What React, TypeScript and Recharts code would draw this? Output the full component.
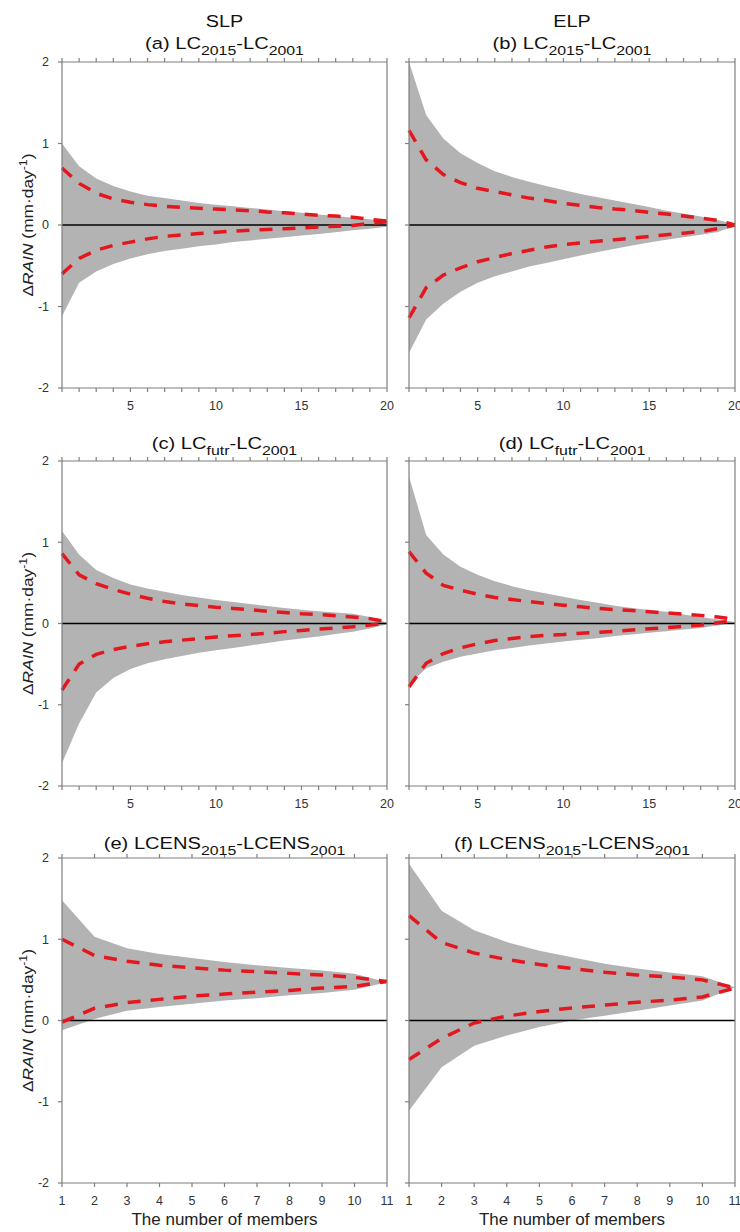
import React from 'react';
import { ComposedChart, Area, Line, XAxis, YAxis, ReferenceLine } from 'recharts';

const members20 = [1, 2, 3, 4, 5, 6, 7, 8, 9, 10, 11, 12, 13, 14, 15, 16, 17, 18, 19, 20];
const members11 = [1, 2, 3, 4, 5, 6, 7, 8, 9, 10, 11];
const yTicks = [-2, -1, 0, 1, 2];

// (a) SLP, LC2015-LC2001
const aSpreadHi = [1.0, 0.72, 0.57, 0.48, 0.41, 0.36, 0.33, 0.3, 0.27, 0.25, 0.23, 0.21, 0.19, 0.17, 0.15, 0.13, 0.11, 0.09, 0.07, 0.04];
const aSpreadLo = [-1.12, -0.71, -0.57, -0.48, -0.41, -0.36, -0.32, -0.29, -0.26, -0.24, -0.21, -0.19, -0.17, -0.15, -0.13, -0.11, -0.09, -0.065, -0.045, -0.02];
const aMeanHi = [0.7, 0.51, 0.39, 0.32, 0.28, 0.25, 0.23, 0.215, 0.205, 0.195, 0.185, 0.175, 0.16, 0.15, 0.135, 0.12, 0.11, 0.095, 0.07, 0.05];
const aMeanLo = [-0.6, -0.41, -0.31, -0.25, -0.21, -0.17, -0.14, -0.12, -0.105, -0.09, -0.075, -0.065, -0.055, -0.045, -0.035, -0.025, -0.015, -0.005, 0.02, 0.04];

// (b) ELP, LC2015-LC2001
const bSpreadHi = [2.0, 1.35, 1.06, 0.88, 0.76, 0.66, 0.59, 0.53, 0.48, 0.43, 0.38, 0.34, 0.3, 0.26, 0.22, 0.175, 0.14, 0.105, 0.06, 0.01];
const bSpreadLo = [-1.57, -1.16, -0.965, -0.82, -0.71, -0.63, -0.57, -0.51, -0.465, -0.42, -0.375, -0.33, -0.29, -0.25, -0.215, -0.18, -0.15, -0.12, -0.085, -0.01];
const bMeanHi = [1.16, 0.8, 0.62, 0.52, 0.45, 0.41, 0.37, 0.33, 0.3, 0.265, 0.24, 0.215, 0.195, 0.18, 0.155, 0.135, 0.11, 0.085, 0.055, 0.0];
const bMeanLo = [-1.14, -0.77, -0.615, -0.525, -0.45, -0.4, -0.35, -0.31, -0.27, -0.24, -0.22, -0.2, -0.18, -0.16, -0.14, -0.12, -0.1, -0.08, -0.045, 0.0];

// (c) SLP, LCfutr-LC2001
const cSpreadHi = [1.14, 0.85, 0.66, 0.56, 0.48, 0.43, 0.39, 0.35, 0.32, 0.29, 0.265, 0.24, 0.215, 0.19, 0.17, 0.15, 0.135, 0.12, 0.08, 0.01];
const cSpreadLo = [-1.72, -1.23, -0.85, -0.67, -0.56, -0.49, -0.44, -0.4, -0.36, -0.33, -0.3, -0.27, -0.24, -0.21, -0.185, -0.16, -0.13, -0.1, -0.06, -0.01];
const cMeanHi = [0.86, 0.6, 0.49, 0.42, 0.36, 0.31, 0.27, 0.24, 0.22, 0.2, 0.185, 0.17, 0.15, 0.135, 0.12, 0.11, 0.095, 0.08, 0.06, 0.02];
const cMeanLo = [-0.82, -0.5, -0.38, -0.32, -0.28, -0.25, -0.225, -0.205, -0.185, -0.165, -0.15, -0.135, -0.12, -0.1, -0.085, -0.07, -0.055, -0.04, -0.02, 0.01];

// (d) ELP, LCfutr-LC2001
const dSpreadHi = [1.81, 1.09, 0.85, 0.7, 0.6, 0.52, 0.46, 0.41, 0.37, 0.33, 0.29, 0.255, 0.22, 0.19, 0.165, 0.145, 0.11, 0.08, 0.05, 0.02];
const dSpreadLo = [-0.75, -0.55, -0.47, -0.41, -0.37, -0.33, -0.3, -0.27, -0.245, -0.22, -0.2, -0.18, -0.155, -0.135, -0.115, -0.095, -0.075, -0.055, -0.02, 0.01];
const dMeanHi = [0.885, 0.62, 0.47, 0.41, 0.36, 0.32, 0.295, 0.27, 0.245, 0.225, 0.205, 0.185, 0.17, 0.16, 0.145, 0.13, 0.115, 0.1, 0.08, 0.05];
const dMeanLo = [-0.78, -0.49, -0.37, -0.3, -0.25, -0.21, -0.185, -0.16, -0.145, -0.135, -0.12, -0.11, -0.095, -0.08, -0.065, -0.05, -0.035, -0.02, 0.01, 0.04];

// (e) SLP, LCENS2015-LCENS2001
const eSpreadHi = [1.48, 1.03, 0.89, 0.82, 0.77, 0.72, 0.68, 0.645, 0.615, 0.575, 0.47];
const eSpreadLo = [-0.12, 0.02, 0.12, 0.165, 0.205, 0.245, 0.275, 0.31, 0.34, 0.38, 0.47];
const eMeanHi = [1.0, 0.8, 0.73, 0.68, 0.65, 0.62, 0.6, 0.58, 0.56, 0.53, 0.48];
const eMeanLo = [-0.02, 0.15, 0.22, 0.26, 0.3, 0.325, 0.35, 0.37, 0.4, 0.42, 0.48];

// (f) ELP, LCENS2015-LCENS2001
const fSpreadHi = [1.93, 1.35, 1.11, 0.965, 0.86, 0.78, 0.7, 0.64, 0.59, 0.545, 0.41];
const fSpreadLo = [-1.11, -0.575, -0.31, -0.185, -0.08, 0.0, 0.06, 0.12, 0.185, 0.245, 0.41];
const fMeanHi = [1.29, 0.96, 0.83, 0.75, 0.69, 0.64, 0.595, 0.56, 0.535, 0.5, 0.4];
const fMeanLo = [-0.48, -0.22, -0.03, 0.055, 0.11, 0.155, 0.19, 0.225, 0.25, 0.29, 0.4];

const FONT = "'Liberation Sans', Arial, Helvetica, sans-serif";
const AXIS = '#7f7f7f';
const GRAY = '#b3b3b3';
const RED = '#e4171e';
const YW = 50;
const RW = 10;
const TH = 10;
const BH = 30;

interface PanelProps {
  left: number;
  top: number;
  width: number;
  height: number;
  xs: number[];
  spreadHi: number[];
  spreadLo: number[];
  meanHi: number[];
  meanLo: number[];
  labelStep: number;
  showY: boolean;
}

function Panel({ left, top, width, height, xs, spreadHi, spreadLo, meanHi, meanLo, labelStep, showY }: PanelProps) {
  const data = xs.map((x, i) => ({
    x,
    band: [spreadLo[i], spreadHi[i]],
    hi: meanHi[i],
    lo: meanLo[i],
  }));
  const xMax = xs[xs.length - 1];
  const tick = { fill: '#333', fontSize: 12.5, fontFamily: FONT };
  const line = { stroke: AXIS, strokeWidth: 1.2 };

  return (
    <div style={{ position: 'absolute', left: left - YW, top: top - TH }}>
      <ComposedChart
        width={width + YW + RW}
        height={height + TH + BH}
        data={data}
        margin={{ top: 0, right: 0, bottom: 0, left: 0 }}
      >
        <XAxis
          dataKey="x"
          type="number"
          domain={[1, xMax]}
          ticks={xs}
          interval={0}
          height={BH}
          axisLine={line}
          tickLine={line}
          tickSize={4}
          tickMargin={9}
          tick={tick}
          tickFormatter={(v: number) => (v % labelStep === 0 ? String(v) : '')}
        />
        <XAxis
          xAxisId="top"
          orientation="top"
          dataKey="x"
          type="number"
          domain={[1, xMax]}
          ticks={xs}
          interval={0}
          height={TH}
          axisLine={line}
          tickLine={line}
          tickSize={4}
          tick={tick}
          tickFormatter={() => ''}
        />
        <YAxis
          type="number"
          domain={[-2, 2]}
          ticks={yTicks}
          interval={0}
          width={YW}
          axisLine={line}
          tickLine={line}
          tickSize={4}
          tickMargin={9}
          tick={tick}
          tickFormatter={(v: number) => (showY ? String(v) : '')}
        />
        <YAxis
          yAxisId="right"
          orientation="right"
          type="number"
          domain={[-2, 2]}
          ticks={yTicks}
          interval={0}
          width={RW}
          axisLine={line}
          tickLine={line}
          tickSize={4}
          tick={tick}
          tickFormatter={() => ''}
        />
        <Area
          type="linear"
          dataKey="band"
          stroke="none"
          fill={GRAY}
          fillOpacity={1}
          isAnimationActive={false}
        />
        <ReferenceLine y={0} stroke="#000" strokeWidth={1.6} />
        <Line
          type="linear"
          dataKey="hi"
          stroke={RED}
          strokeWidth={3.5}
          strokeDasharray="13 10"
          dot={false}
          isAnimationActive={false}
        />
        <Line
          type="linear"
          dataKey="lo"
          stroke={RED}
          strokeWidth={3.5}
          strokeDasharray="13 10"
          dot={false}
          isAnimationActive={false}
        />
      </ComposedChart>
    </div>
  );
}

function Title({ x, y, label, a, b, c }: { x: number; y: number; label: string; a: string; b: string; c: string }) {
  return (
    <g transform={`translate(${x},${y}) scale(1.22,1)`}>
      <text x={0} y={0} textAnchor="middle" fontSize={16.5} fill="#111">
        {label} {a}
        <tspan fontSize={13} dy={6}>{b}</tspan>
        <tspan dy={-6}>-{a}</tspan>
        <tspan fontSize={13} dy={6}>{c}</tspan>
      </text>
    </g>
  );
}

function YLabel({ y }: { y: number }) {
  return (
    <g transform={`translate(33,${y}) rotate(-90) scale(1.12,1)`}>
      <text x={0} y={0} textAnchor="middle" fontSize={15.5} fill="#222">
        Δ<tspan fontStyle="italic">RAIN</tspan> (mm·day
        <tspan fontSize={11} dy={-6}>-1</tspan>
        <tspan dy={6}>)</tspan>
      </text>
    </g>
  );
}

export default function App() {
  const L1 = 62;
  const L2 = 409;
  const W1 = 325;
  const W2 = 326;
  return (
    <div style={{ position: 'absolute', left: 0, top: 0, width: 740, height: 1232, background: '#fff', fontFamily: FONT }}>
      <Panel left={L1} top={62} width={W1} height={326} xs={members20} spreadHi={aSpreadHi} spreadLo={aSpreadLo} meanHi={aMeanHi} meanLo={aMeanLo} labelStep={5} showY />
      <Panel left={L2} top={62} width={W2} height={326} xs={members20} spreadHi={bSpreadHi} spreadLo={bSpreadLo} meanHi={bMeanHi} meanLo={bMeanLo} labelStep={5} showY={false} />
      <Panel left={L1} top={461} width={W1} height={325} xs={members20} spreadHi={cSpreadHi} spreadLo={cSpreadLo} meanHi={cMeanHi} meanLo={cMeanLo} labelStep={5} showY />
      <Panel left={L2} top={461} width={W2} height={325} xs={members20} spreadHi={dSpreadHi} spreadLo={dSpreadLo} meanHi={dMeanHi} meanLo={dMeanLo} labelStep={5} showY={false} />
      <Panel left={L1} top={858} width={W1} height={325} xs={members11} spreadHi={eSpreadHi} spreadLo={eSpreadLo} meanHi={eMeanHi} meanLo={eMeanLo} labelStep={1} showY />
      <Panel left={L2} top={858} width={W2} height={325} xs={members11} spreadHi={fSpreadHi} spreadLo={fSpreadLo} meanHi={fMeanHi} meanLo={fMeanLo} labelStep={1} showY={false} />

      <svg width={740} height={1232} style={{ position: 'absolute', left: 0, top: 0, pointerEvents: 'none', fontFamily: FONT }}>
        <g transform="translate(224.5,27) scale(1.2,1)">
          <text textAnchor="middle" fontSize={16.5} fill="#111">SLP</text>
        </g>
        <g transform="translate(572,27) scale(1.2,1)">
          <text textAnchor="middle" fontSize={16.5} fill="#111">ELP</text>
        </g>
        <Title x={224.5} y={49} label="(a)" a="LC" b="2015" c="2001" />
        <Title x={572} y={49} label="(b)" a="LC" b="2015" c="2001" />
        <Title x={224.5} y={449} label="(c)" a="LC" b="futr" c="2001" />
        <Title x={572} y={449} label="(d)" a="LC" b="futr" c="2001" />
        <Title x={224.5} y={849} label="(e)" a="LCENS" b="2015" c="2001" />
        <Title x={572} y={849} label="(f)" a="LCENS" b="2015" c="2001" />
        <YLabel y={225} />
        <YLabel y={623.5} />
        <YLabel y={1020.5} />
        <text x={224.5} y={1225} textAnchor="middle" fontSize={17} fill="#222">The number of members</text>
        <text x={572} y={1225} textAnchor="middle" fontSize={17} fill="#222">The number of members</text>
      </svg>
    </div>
  );
}
